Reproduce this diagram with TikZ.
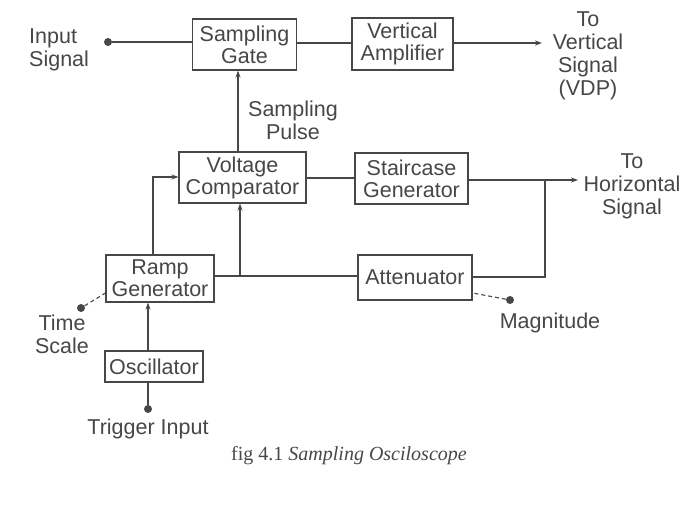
\documentclass[tikz,border=0pt]{standalone}
\usepackage{fontspec}
\setmainfont{Liberation Sans}
\newfontfamily\capfont{Liberation Serif}
\usetikzlibrary{arrows.meta,calc}
\definecolor{ink}{gray}{0.28}
\tikzset{
  blk/.style={draw=ink, line width=1.1pt, rectangle, inner sep=0pt, text=ink,
    font=\fontsize{21.5}{22}\selectfont, align=center},
  lbl/.style={text=ink, font=\fontsize{21.5}{23}\selectfont, align=center, inner sep=0pt},
  wire/.style={draw=ink, line width=1.1pt},
  arr/.style={wire, -{Stealth[length=7pt,width=5pt]}},
  dsh/.style={draw=ink, line width=1.1pt, dash pattern=on 4pt off 3pt},
  dotn/.style={circle, fill=ink, inner sep=0pt, minimum size=8pt}
}
\begin{document}
\begin{tikzpicture}[x=1pt,y=-1pt]
\useasboundingbox[fill=white] (0,0) rectangle (686,527);
% blocks
\node[blk, minimum width=104pt, minimum height=51pt] (gate)  at (244.5,44.5) {Sampling\\Gate};
\node[blk, minimum width=101pt, minimum height=52pt] (vamp)  at (402.5,44) {Vertical\\Amplifier};
\node[blk, minimum width=127pt, minimum height=51pt] (vc)    at (242.5,177.5) {Voltage\\Comparator};
\node[blk, minimum width=113pt, minimum height=51pt] (stair) at (411.5,178.5) {Staircase\\Generator};
\node[blk, minimum width=114pt, minimum height=45pt] (att)   at (415,277.5) {Attenuator};
\node[blk, minimum width=108pt, minimum height=47pt] (ramp)  at (160,278.5) {Ramp\\Generator};
\node[blk, minimum width=98pt, minimum height=31pt]  (osc)   at (154,366.5) {Oscillator};
% terminals
\node[dotn] (in)   at (108,42) {};
\node[dotn] (trig) at (148,409) {};
\node[dotn] (ts)   at (81,308) {};
\node[dotn] (mag)  at (510,300) {};
\coordinate (vout) at (542,43);
\coordinate (hout) at (578,180);
\coordinate (jr)   at (545,180);
\coordinate (jl)   at (240,276);
\coordinate (rup)  at (153,177);
\coordinate (spx)  at (238,0);
\coordinate (oscx) at (148,0);
% labels
\node[lbl, align=left, anchor=west] (inl) at (29,50) {Input\\Signal};
\node[lbl] (spl)  at (293,120) {Sampling\\Pulse};
\node[lbl] (vdp)  at (588,56) {To\\Vertical\\Signal\\(VDP)};
\node[lbl] (hor)  at (632,186) {To\\Horizontal\\Signal};
\node[lbl] (tsl)  at (62,334) {Time\\Scale};
\node[lbl] (trl)  at (148,429) {Trigger Input};
\node[lbl] (magl) at (550,323) {Magnitude};
\node[text=ink, inner sep=0pt, font=\capfont\fontsize{20}{22}\selectfont] (cap) at (349,456) {fig 4.1 \textit{Sampling Osciloscope}};
% connectors
\draw[wire] (in) -- (in -| gate.west);
\draw[wire] (gate.east |- 0,43) -- (vamp.west |- 0,43);
\draw[arr] (vamp.east |- vout) -- (vout);
\draw[arr] (vc.north -| spx) -- (gate.south -| spx);
\draw[wire] (vc.east |- 0,178) -- (stair.west |- 0,178);
\draw[arr] (stair.east |- hout) -- (hout);
\draw[wire] (jr) -- (jr |- 0,277) -- (att.east |- 0,277);
\draw[wire] (att.west |- jl) -- (ramp.east |- jl);
\draw[arr] (jl) -- (vc.south -| jl);
\draw[arr] (ramp.north -| rup) -- (rup) -- (vc.west |- rup);
\draw[arr] (osc.north -| oscx) -- (ramp.south -| oscx);
\draw[wire] (trig) -- (osc.south -| trig);
\draw[dsh] (ts) -- (ramp.west |- 0,293);
\draw[dsh] (mag) -- (att.east |- 0,293);
\end{tikzpicture}
\end{document}
